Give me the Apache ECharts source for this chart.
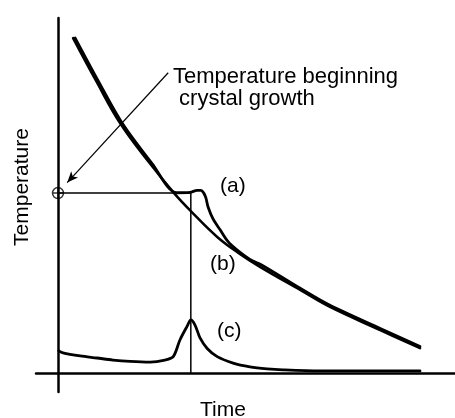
<!DOCTYPE html>
<html>
<head>
<meta charset="utf-8">
<script src="https://cdn.jsdelivr.net/npm/echarts@6/dist/echarts.min.js"></script>
<style>
  html, body { margin: 0; padding: 0; background: #fff; }
  #chart { width: 455px; height: 418px; }
</style>
</head>
<body>
<div id="chart"></div>
<script>
// ── values: [time, temperature], arbitrary units ──
// (a) crystallising melt: plateau + recalescence bump, then rejoins (b)
const curveA = [
  [4.1, 98.6], [9.6, 86.0], [15.3, 73.6], [22.5, 61.6], [28.3, 53.1],
  [31.5, 53.2], [33.2, 53.8], [34.1, 53.8], [34.8, 53.0], [35.3, 51.6],
  [35.8, 49.0], [37.0, 45.4], [38.7, 42.2], [40.6, 38.7], [42.7, 36.3],
  [45.8, 33.5], [48.7, 31.8], [57.8, 25.0], [64.9, 20.0], [76.9, 13.2],
  [86.4, 7.9]
];
// (b) glass-forming melt: smooth cooling
const curveB = [
  [3.6, 98.6], [9.1, 86.0], [14.8, 73.6], [22.0, 61.6], [27.7, 53.0],
  [31.7, 47.7], [38.0, 40.1], [43.4, 35.1], [48.2, 31.3], [57.8, 24.5],
  [64.9, 19.5], [76.9, 12.7], [86.4, 7.4]
];
// (c) growth-rate signal, peaks at crystallisation
const curveC = [
  [0.2, 6.6], [1.2, 6.0], [5.3, 5.1], [9.3, 4.5], [13.1, 3.9], [17.2, 3.5],
  [22.0, 3.3], [25.5, 3.9], [27.5, 4.9], [29.1, 9.8], [30.8, 13.8],
  [31.7, 15.7], [32.7, 14.2], [33.9, 10.4], [35.6, 7.3], [38.0, 4.9],
  [41.8, 3.0], [45.8, 1.9], [49.9, 1.3], [53.7, 1.0], [62.5, 0.7],
  [74.5, 0.7], [86.4, 0.7]
];
const crystalTemp = 53.0;   // temperature beginning crystal growth
const crystalTime = 31.7;   // time of the (c) peak
const arrowFrom = [26.3, 88.4];
const arrowTo = [2.2, 56.1];
const seriesNames = ["(a)", "(b)", "(c)"];

const FONT = '"Liberation Sans", Arial, Helvetica, sans-serif';
const INK = "#000";

// circle with a cross, the mark on the axis
const crossCircle = "path://M0,6A6,6 0 1,1 12,6A6,6 0 1,1 0,6ZM0,6L12,6M6,0L6,12";

const curve = (name, data, width, smooth) => ({
  name, type: "line", data, smooth, showSymbol: false, silent: true,
  lineStyle: { color: INK, width, cap: "round", join: "round" },
});

const label = (text, left, top, size) => ({
  type: "text", left, top,
  style: { text, font: `${size || 21}px ${FONT}`, lineHeight: 22, fill: INK },
});

const chart = echarts.init(document.getElementById("chart"), null, { renderer: "canvas" });
chart.setOption({
  animation: false,
  backgroundColor: "#fff",
  grid: { left: 36, right: 0, top: 18, bottom: 26 },
  xAxis: {
    type: "value", min: -5.25, max: 94.75,
    axisLine: { onZero: true, lineStyle: { color: INK, width: 2.5 } },
    axisTick: { show: false }, axisLabel: { show: false }, splitLine: { show: false },
  },
  yAxis: {
    type: "value", min: -5.5, max: 104.5,
    axisLine: { onZero: true, lineStyle: { color: INK, width: 2.5 } },
    axisTick: { show: false }, axisLabel: { show: false }, splitLine: { show: false },
  },
  series: [
    curve(seriesNames[0], curveA, 2.8, 0.3),
    curve(seriesNames[1], curveB, 2.5, 0.4),
    curve(seriesNames[2], curveC, 2.8, 0.3),
    {
      name: "guide", type: "line", silent: true, showSymbol: false,
      data: [[0, crystalTemp], [crystalTime, crystalTemp], [crystalTime, 0]],
      lineStyle: { color: INK, width: 1.5 },
      markLine: {
        silent: true, symbol: ["none", "arrow"], symbolSize: [7, 11],
        label: { show: false },
        lineStyle: { color: INK, width: 1.2, type: "solid" },
        data: [[{ coord: arrowFrom }, { coord: arrowTo }]],
      },
    },
    {
      name: "start", type: "scatter", silent: true,
      data: [[0, crystalTemp]],
      symbol: crossCircle, symbolSize: 11,
      itemStyle: { color: "transparent", borderColor: INK, borderWidth: 1.5 },
    },
  ],
  graphic: [
    label("Temperature beginning\n crystal growth", 173, 66, 22),
    label(seriesNames[0], 220, 175),
    label(seriesNames[1], 210, 253),
    label(seriesNames[2], 217, 320),
    label("Time", 200, 399),
    {
      type: "text", x: 22, y: 187, rotation: Math.PI / 2,
      style: { text: "Temperature", font: `21px ${FONT}`, fill: INK,
        align: "center", verticalAlign: "middle" },
    },
  ],
});
</script>
</body>
</html>
